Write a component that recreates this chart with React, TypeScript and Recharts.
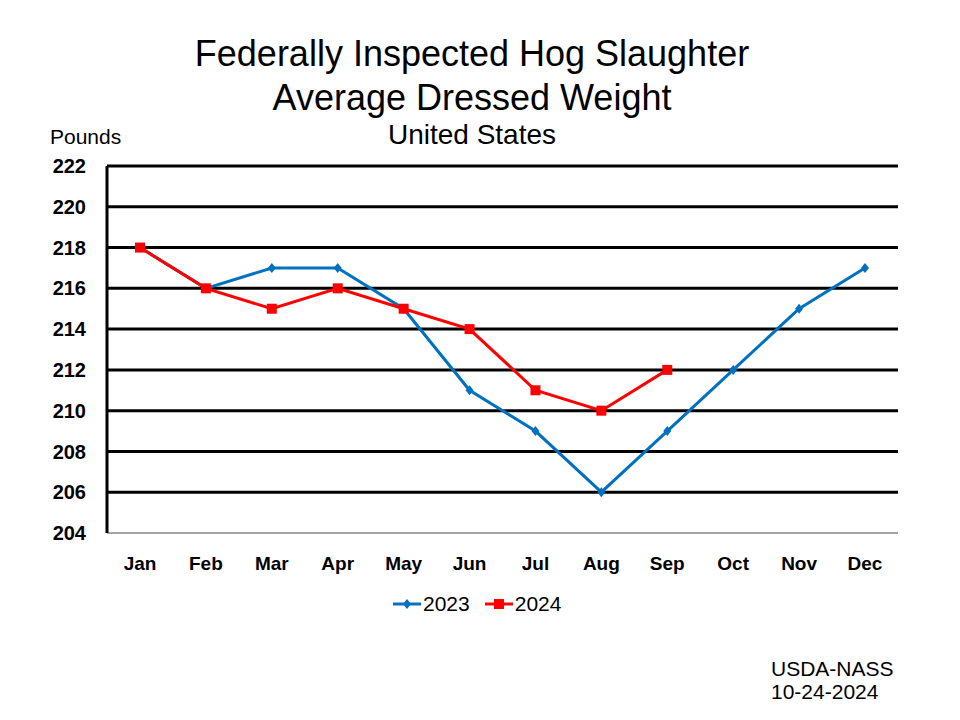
import { LineChart, Line, XAxis, YAxis, ReferenceLine } from "recharts";

const months = ["Jan", "Feb", "Mar", "Apr", "May", "Jun", "Jul", "Aug", "Sep", "Oct", "Nov", "Dec"];
const weights2023 = [218, 216, 217, 217, 215, 211, 209, 206, 209, 212, 215, 217];
const weights2024 = [218, 216, 215, 216, 215, 214, 211, 210, 212, null, null, null];
const yTicks = [204, 206, 208, 210, 212, 214, 216, 218, 220, 222];
const gridValues = [206, 208, 210, 212, 214, 216, 218, 220, 222];

const BLUE = "#0070C0";
const RED = "#FF0000";
const FONT = "'Liberation Sans', Arial, sans-serif";

const data = months.map((m, i) => ({
  month: m,
  y2023: weights2023[i],
  y2024: weights2024[i],
}));

const Diamond = (props: any) => {
  const { cx, cy } = props;
  if (cx == null || cy == null) return null;
  return <path d={`M${cx},${cy - 5}L${cx + 4},${cy}L${cx},${cy + 5}L${cx - 4},${cy}Z`} fill={BLUE} />;
};

const Square = (props: any) => {
  const { cx, cy, payload } = props;
  if (cx == null || cy == null || payload?.y2024 == null) return null;
  return <rect x={cx - 5} y={cy - 5} width={10} height={10} fill={RED} />;
};

export default function App() {
  return (
    <div style={{ position: "relative", width: 960, height: 720, margin: -8, fontFamily: FONT, background: "#fff" }}>
      <LineChart
        width={960}
        height={720}
        data={data}
        margin={{ top: 166, right: 62, bottom: 137, left: 47 }}
      >
        <XAxis
          dataKey="month"
          padding={{ left: 33, right: 33 }}
          axisLine={{ stroke: "#888", strokeWidth: 1.5 }}
          tickLine={false}
          tickSize={0}
          tickMargin={24}
          height={50}
          tick={{ fill: "#000", fontSize: 19, fontWeight: "bold", fontFamily: FONT }}
          interval={0}
        />
        <YAxis
          yAxisId="left"
          domain={[204, 222]}
          ticks={yTicks}
          width={60}
          axisLine={{ stroke: "#000", strokeWidth: 3 }}
          tickLine={false}
          tickSize={0}
          tickMargin={21}
          tick={{ fill: "#000", fontSize: 20, fontWeight: "bold", fontFamily: FONT }}
          interval={0}
        />
        <YAxis
          yAxisId="right"
          orientation="right"
          domain={[204, 222]}
          ticks={yTicks}
          width={0}
          axisLine={{ stroke: "#000", strokeWidth: 3 }}
          tickLine={false}
          tick={false}
        />
        {gridValues.map((v) => (
          <ReferenceLine key={v} yAxisId="left" y={v} stroke="#000" strokeWidth={3} />
        ))}
        <Line
          yAxisId="left"
          dataKey="y2023"
          stroke={BLUE}
          strokeWidth={3}
          dot={<Diamond />}
          activeDot={false}
          isAnimationActive={false}
        />
        <Line
          yAxisId="left"
          dataKey="y2024"
          stroke={RED}
          strokeWidth={3}
          dot={<Square />}
          activeDot={false}
          connectNulls={false}
          isAnimationActive={false}
        />
      </LineChart>

      <div style={{ position: "absolute", left: 0, top: 32, width: 944, textAlign: "center", fontSize: 36, lineHeight: "44px", color: "#000" }}>
        Federally Inspected Hog Slaughter
        <br />
        Average Dressed Weight
      </div>
      <div style={{ position: "absolute", left: 0, top: 119, width: 944, textAlign: "center", fontSize: 28, color: "#000" }}>
        United States
      </div>
      <div style={{ position: "absolute", left: 50, top: 125, fontSize: 21, color: "#000" }}>Pounds</div>

      <div style={{ position: "absolute", left: 392, top: 592, display: "flex", alignItems: "center", fontSize: 21, color: "#000" }}>
        <svg width={30} height={14}>
          <line x1={1} y1={7} x2={29} y2={7} stroke={BLUE} strokeWidth={3} />
          <path d="M15,2L19,7L15,12L11,7Z" fill={BLUE} />
        </svg>
        <span style={{ marginLeft: 1, marginRight: 14 }}>2023</span>
        <svg width={30} height={14}>
          <line x1={1} y1={7} x2={29} y2={7} stroke={RED} strokeWidth={3} />
          <rect x={10} y={2} width={10} height={10} fill={RED} />
        </svg>
        <span style={{ marginLeft: 1 }}>2024</span>
      </div>

      <div style={{ position: "absolute", left: 771, top: 657, fontSize: 21, lineHeight: "23px", color: "#000" }}>
        USDA-NASS
        <br />
        10-24-2024
      </div>
    </div>
  );
}
